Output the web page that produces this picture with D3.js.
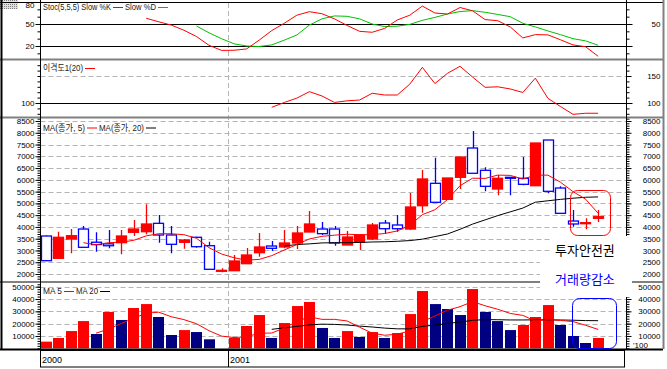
<!DOCTYPE html>
<html>
<head>
<meta charset="utf-8">
<script src="https://cdn.jsdelivr.net/npm/d3@7"></script>
<style>
  body { margin: 0; background: #fff; }
  .grid line { stroke: #b4b4b4; stroke-dasharray: 5,3; }
  .axis path { stroke: #000; }
  .axis line { stroke: #000; }
  .axis text { font-size: 8px; fill: #000; }
</style>
</head>
<body>
<div id="chart"></div>
<script>
// weekly candles, Sep 2000 - Jul 2001
const years = ["2000", "2001"];
const yearFirstBar = [0, 15];

const openP = [3614, 2667, 3487, 3911, 3350, 3280, 3330, 3771, 3797, 4153, 3657, 3347, 3559, 3202, 2157,
  2140, 2438, 2905, 3189, 3147, 3317, 3784, 3911, 3911, 3232, 3359, 3487, 4167, 4082, 3911,
  4901, 5853, 5173, 6108, 7353, 6405, 5611, 6108, 6066, 5751, 7692, 5653, 4251, 4180, 4366];
const highP = [3640, 3800, 3910, 4040, 3770, 3870, 3870, 4290, 4960, 4506, 4040, 3490, 3580, 3372, 2240,
  2807, 3100, 3742, 3400, 3870, 4039, 4676, 4209, 4039, 3827, 3700, 4167, 4294, 4506, 5441,
  6418, 6941, 6078, 6970, 8075, 6533, 6206, 6108, 6970, 7565, 7692, 5725, 4719, 4366, 4719];
const lowP = [2565, 2640, 2880, 3134, 2950, 3090, 2840, 3614, 3690, 3330, 2880, 3075, 3117, 2200, 2070,
  2140, 2438, 2735, 2977, 3092, 3062, 3784, 3657, 3202, 3232, 3020, 3444, 3700, 3797, 3869,
  4600, 5046, 5173, 5611, 6279, 5513, 5343, 5343, 5768, 5751, 5430, 4578, 4009, 3900, 4209];
const closeP = [2565, 3559, 3627, 3134, 3250, 3200, 3614, 3911, 4124, 3657, 3262, 3444, 3160, 2200, 2157,
  2552, 2807, 3147, 3092, 3317, 3742, 4124, 3713, 3317, 3572, 3657, 4082, 3924, 3924, 4846,
  6036, 5046, 6078, 6970, 6279, 5725, 6066, 6066, 5810, 7565, 5513, 4578, 4124, 4180, 4434];

const priceMa5 = [null, null, null, 3330, 3240, 3330, 3350, 3430, 3620, 3710, 3710, 3670, 3520, 3120, 2850,
  2690, 2590, 2620, 2780, 3020, 3250, 3490, 3600, 3650, 3690, 3670, 3670, 3720, 3830, 4070,
  4520, 4730, 5160, 5750, 6070, 6060, 6200, 6190, 6030, 6200, 6200, 5900, 5500, 5180, 4580];
const priceMa20 = [null, null, null, null, null, null, null, null, null, null, null, null, null, null, null,
  null, null, null, null, 3190, 3250, 3280, 3320, 3330, 3330, 3340, 3360, 3370, 3390, 3420,
  3480, 3590, 3700, 3900, 4120, 4300, 4480, 4640, 4800, 5050, 5110, 5170, 5220, 5260, 5275];

const volume = [5400, 8400, 14000, 22100, 11600, 29500, 23000, 32700, 35900, 25400, 10800, 14800, 13200, 7300, 0,
  8400, 18100, 27000, 8400, 20500, 34300, 37600, 16500, 8400, 14000, 9200, 13200, 8400, 12400, 27800,
  46500, 35900, 31900, 27000, 48100, 29500, 22100, 14800, 18900, 25400, 35100, 18900, 10000, 4300, 8400];
const volMa5 = [null, null, null, null, 12300, 15600, 20100, 24400, 28500, 29300, 25600, 23300, 20000, 14300, 9900,
  8700, 9400, 12200, 12400, 16500, 21700, 25600, 23500, 23500, 22200, 17100, 12300, 10600, 11400, 14200,
  21700, 26200, 30900, 33800, 37900, 34500, 31700, 28300, 26700, 22100, 23300, 22600, 21700, 18700, 15300];
const volMa20 = [null, null, null, null, null, null, null, null, null, null, null, null, null, null, null,
  null, null, null, 15400, 16600, 17800, 19000, 19600, 19400, 18900, 18000, 17300, 16400, 15800, 15800,
  17800, 18800, 20200, 21300, 22700, 23300, 23200, 23000, 23000, 23100, 23100, 23000, 22800, 22500, 22400];

const slowK = [null, null, null, null, null, null, null, null, 57.8, 53, 48.5, 41.5, 33, 21, 14,
  14.2, 16, 28, 41, 51, 62, 66.8, 64, 57, 48, 40, 38.7, 44, 55.5, 62,
  74.5, 65, 63.6, 72.5, 68, 56, 54.5, 46, 31, 35.5, 35.2, 28.5, 21.5, 19, 6];
const slowD = [null, null, null, null, null, null, null, null, null, null, null, null, 47.3, 38, 30,
  23, 20, 19.3, 21.5, 28, 35, 48.5, 57, 61, 60.5, 57, 50, 46.5, 47, 49.5,
  55, 59, 63.6, 67, 68.2, 66, 63, 60, 51, 46, 40.5, 35.5, 30, 27, 21];
const disparity = [null, null, null, null, null, null, null, null, null, null, null, null, null, null, null,
  null, null, null, 92, 101, 109, 121, 113, 101, 104, 105.5, 118, 114.8, 114.8, 135,
  166, 136, 155, 168, 148, 129, 130, 126, 119.5, 146, 108.7, 93.5, 79, 81, 81];

const priceTicks = [2000, 2500, 3000, 3500, 4000, 4500, 5000, 5500, 6000, 6500, 7000, 7500, 8000, 8500];
const volTicks = [10000, 20000, 30000, 40000, 50000];
const stochLeftTicks = [20, 50, 80];
const stochRightTicks = [50];
const dispLeftTicks = [100];
const dispRightTicks = [100, 150];

const W = 667, H = 369;
const axL = 40.5, axR = 626.5;
const RED = "#ff0000", BLUE = "#0000ff", NAVY = "#000080", GREEN = "#00c000";

const svg = d3.select("#chart").append("svg")
  .attr("width", W).attr("height", H)
  .style("font-family", "'Liberation Sans', Arial, sans-serif");

const x = d3.scaleBand().domain(d3.range(47)).range([40.5, 628.5]).paddingInner(0.16);
const cx = i => x(i) + x.bandwidth() / 2;
const idx = d3.range(openP.length);

const panels = {
  stoch: { top: 3, bottom: 59, y: d3.scaleLinear().domain([20, 50]).range([46, 24]) },
  disp: { top: 60, bottom: 117, y: d3.scaleLinear().domain([100, 150]).range([103, 76]) },
  price: { top: 118, bottom: 282, y: d3.scaleLinear().domain([2000, 8500]).range([274, 121]) },
  vol: { top: 283, bottom: 349, y: d3.scaleLinear().domain([0, 50000]).range([348.3, 286.7]) }
};

const defs = svg.append("defs");
Object.entries(panels).forEach(([k, p]) => {
  defs.append("clipPath").attr("id", "clip-" + k)
    .append("rect").attr("x", axL).attr("y", p.top).attr("width", axR - axL).attr("height", p.bottom - p.top);
});
const dots = defs.append("pattern").attr("id", "dots").attr("width", 2).attr("height", 2)
  .attr("patternUnits", "userSpaceOnUse");
dots.append("rect").attr("width", 2).attr("height", 2).attr("fill", "#e0e0e0");
dots.append("rect").attr("width", 1).attr("height", 1).attr("fill", "#808080");

// dashed grids
function hGrid(p, values) {
  svg.append("g").attr("class", "grid")
    .selectAll("line").data(values).join("line")
    .attr("x1", axL).attr("x2", axR)
    .attr("y1", d => Math.round(p.y(d)) + 0.5).attr("y2", d => Math.round(p.y(d)) + 0.5);
}
hGrid(panels.price, priceTicks);
hGrid(panels.vol, volTicks);
hGrid(panels.disp, [150]);

const yearX = Math.round((cx(yearFirstBar[1] - 1) + cx(yearFirstBar[1])) / 2) + 0.5;
svg.append("g").attr("class", "grid").append("line")
  .attr("x1", yearX).attr("x2", yearX).attr("y1", 3).attr("y2", 349);

// solid reference lines
function hSolid(p, values) {
  svg.append("g").selectAll("line").data(values).join("line")
    .attr("x1", axL).attr("x2", axR + 6)
    .attr("y1", d => Math.round(p.y(d)) + 0.5).attr("y2", d => Math.round(p.y(d)) + 0.5)
    .attr("stroke", "#000");
}
hSolid(panels.stoch, [20, 50]);
hSolid(panels.disp, [100]);

// axes
function axes(p, step, leftLabels, rightLabels) {
  const all = d3.range(Math.ceil((p.y.invert(p.bottom)) / step) * step, p.y.invert(p.top) + 0.001, step);
  const minor = all.filter(v => v >= 0);
  [["L", axL, d3.axisLeft, leftLabels], ["R", axR, d3.axisRight, rightLabels]].forEach(([side, xp, fn, labs]) => {
    const g = svg.append("g").attr("class", "axis").attr("transform", `translate(${xp},0)`);
    g.call(fn(p.y).tickValues(minor).tickSize(3).tickFormat(""));
    g.select(".domain").remove();
    const g2 = svg.append("g").attr("class", "axis").attr("transform", `translate(${xp},0)`);
    g2.call(fn(p.y).tickValues(labs).tickSize(5).tickPadding(2).tickFormat(d3.format("d")));
    g2.select(".domain").remove();
    if (side === "R") g2.selectAll("text").attr("text-anchor", "end").attr("x", 34);
    else g2.selectAll("text").attr("x", -6);
  });
}
axes(panels.stoch, 10, stochLeftTicks, stochRightTicks);
axes(panels.disp, 10, dispLeftTicks, dispRightTicks);
axes(panels.price, 100, priceTicks, priceTicks);
axes(panels.vol, 2000, volTicks, volTicks);
// keep the cut "80" label inside the picture
svg.selectAll(".axis text").filter(function () { return this.textContent === "80"; }).attr("dy", "0.9em").attr("y", -1.5);
svg.append("text").attr("x", 633).attr("y", 348).attr("font-size", 8).text("'100");

// helper for indicator lines
function series(p, clip, values, color) {
  const line = d3.line().defined(d => values[d] != null).x(d => cx(d)).y(d => p.y(values[d]));
  svg.append("path").attr("clip-path", `url(#clip-${clip})`)
    .attr("d", line(idx)).attr("fill", "none").attr("stroke", color).attr("stroke-width", 1);
}

// stochastic
series(panels.stoch, "stoch", slowD, GREEN);
series(panels.stoch, "stoch", slowK, RED);
// disparity
series(panels.disp, "disp", disparity, RED);

// candles
const py = panels.price.y;
const cg = svg.append("g").attr("clip-path", "url(#clip-price)");
const up = i => closeP[i] >= openP[i];
cg.selectAll("line.wick").data(idx).join("line").attr("class", "wick")
  .attr("x1", i => Math.round(cx(i)) + 0.5).attr("x2", i => Math.round(cx(i)) + 0.5)
  .attr("y1", i => py(highP[i])).attr("y2", i => py(lowP[i]))
  .attr("stroke", i => up(i) ? RED : BLUE).attr("stroke-width", 1.3);
cg.selectAll("rect.body").data(idx).join("rect").attr("class", "body")
  .attr("x", i => Math.round(x(i)) + 0.5)
  .attr("width", Math.round(x.bandwidth()) - 1)
  .attr("y", i => py(Math.max(openP[i], closeP[i])))
  .attr("height", i => Math.max(1, Math.abs(py(openP[i]) - py(closeP[i]))))
  .attr("fill", i => up(i) ? RED : "#fff")
  .attr("stroke", i => up(i) ? RED : BLUE).attr("stroke-width", 1.3);
series(panels.price, "price", priceMa20, "#000");
series(panels.price, "price", priceMa5, RED);

// volume
const vy = panels.vol.y;
svg.append("g").selectAll("rect").data(idx.filter(i => volume[i] > 0)).join("rect")
  .attr("x", i => Math.round(x(i)))
  .attr("width", Math.round(x.bandwidth()))
  .attr("y", i => vy(volume[i]))
  .attr("height", i => vy(0) - vy(volume[i]))
  .attr("fill", i => (i === 0 || volume[i] >= volume[i - 1]) ? RED : NAVY);
series(panels.vol, "vol", volMa20, "#000");
series(panels.vol, "vol", volMa5, RED);

// frame and separators
svg.append("rect").attr("x", 0).attr("y", 0).attr("width", 18).attr("height", 9).attr("fill", "url(#dots)");
[[2.5, "#000"], [59.5, "#808080"], [117.5, "#808080"], [282, "#808080"]].forEach(([yy, c]) => {
  svg.append("line").attr("x1", 0).attr("x2", 663).attr("y1", yy).attr("y2", yy)
    .attr("stroke", c).attr("stroke-width", c === "#000" ? 1 : 2);
});
svg.append("line").attr("x1", 0).attr("x2", 663).attr("y1", 349.5).attr("y2", 349.5).attr("stroke", "#000").attr("stroke-width", 2);
svg.append("line").attr("x1", 1.5).attr("x2", 1.5).attr("y1", 0).attr("y2", 349).attr("stroke", "#000").attr("stroke-width", 2);
svg.append("line").attr("x1", 663.5).attr("x2", 663.5).attr("y1", 0).attr("y2", 349).attr("stroke", "#808080").attr("stroke-width", 2);
[axL, axR].forEach(xx => svg.append("line").attr("x1", xx).attr("x2", xx).attr("y1", 0).attr("y2", 349).attr("stroke", "#000"));

// date row
svg.append("rect").attr("x", 40.5).attr("y", 350.5).attr("width", 584).attr("height", 16.5)
  .attr("fill", "none").attr("stroke", "#000");
svg.append("line").attr("x1", yearX).attr("x2", yearX).attr("y1", 350).attr("y2", 367).attr("stroke", "#000");
years.forEach((yr, k) => {
  const x0 = k === 0 ? 42 : yearX + 1.5;
  svg.append("text").attr("x", x0).attr("y", 363).attr("font-size", 9).text(yr);
});

// legends
function legend(yy, items) {
  let xx = 43;
  items.forEach(it => {
    svg.append("text").attr("x", xx).attr("y", yy + 3).attr("font-size", 9)
      .attr("font-family", "'Liberation Sans', 'Noto Sans CJK KR', sans-serif")
      .attr("textLength", it.w).attr("lengthAdjust", "spacingAndGlyphs").attr("fill", "#222").text(it.t);
    xx += it.w + 2;
    svg.append("line").attr("x1", xx).attr("x2", xx + 10).attr("y1", yy + 0.5).attr("y2", yy + 0.5).attr("stroke", it.c);
    xx += 12;
  });
}
legend(7, [{ t: "Stoc(5,5,5) Slow %K", w: 68, c: RED }, { t: "Slow %D", w: 31, c: GREEN }]);
legend(68, [{ t: "이격도1(20)", w: 40, c: RED }]);
legend(127.5, [{ t: "MA(종가, 5)", w: 42, c: RED }, { t: "MA(종가, 20)", w: 45, c: "#000" }]);
legend(291, [{ t: "MA 5", w: 19, c: RED }, { t: "MA 20", w: 22, c: "#000" }]);

// annotations
svg.append("rect").attr("x", 552).attr("y", 236).attr("width", 80).attr("height", 25).attr("fill", "#fff");
svg.append("rect").attr("x", 540).attr("y", 261).attr("width", 92).attr("height", 36).attr("fill", "#fff");
svg.append("text").attr("x", 555).attr("y", 255).attr("font-size", 13)
  .attr("font-family", "'Noto Sans CJK KR', sans-serif").attr("fill", "#000").text("투자안전권");
svg.append("text").attr("x", 555).attr("y", 284).attr("font-size", 13)
  .attr("font-family", "'Noto Sans CJK KR', sans-serif").attr("fill", BLUE).text("거래량감소");
svg.append("rect").attr("x", 570.5).attr("y", 190.5).attr("width", 40).attr("height", 45).attr("rx", 7)
  .attr("fill", "none").attr("stroke", RED);
svg.append("rect").attr("x", 572.5).attr("y", 298.5).attr("width", 44).attr("height", 50).attr("rx", 7)
  .attr("fill", "none").attr("stroke", BLUE);
</script>
</body>
</html>
